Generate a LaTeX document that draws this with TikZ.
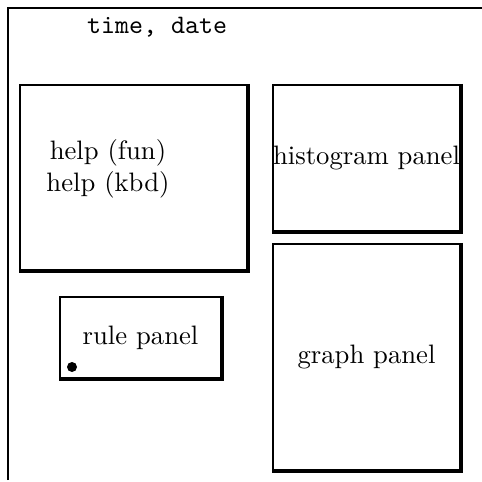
\documentclass[tikz,border=0pt]{standalone}
\usepackage{amsfonts, amssymb, amsmath}
\usetikzlibrary{arrows,positioning,shapes,calc}
\tikzset{panel/.style={draw, line width=0.9pt, inner sep=0pt, rectangle}}

\begin{document}
\begin{tikzpicture}[x=0.375pt,y=-0.375pt]
        \useasboundingbox (0,0) rectangle (482,482);
        %frame
        \draw[line width=1.1pt] (8,480) -- (8,8) -- (482,8);
        \node (clock) at (157,27) {\ttfamily time, date};
        %panels
        \node[panel, minimum width=227*0.375pt, minimum height=185*0.375pt] (help) at (133.5,177.5) {};
        \node[align=center] (helptext) at (108,169) {help (fun)\\help (kbd)};
        \node[panel, minimum width=187*0.375pt, minimum height=146*0.375pt] (hist) at (366.5,158) {histogram panel};
        \node[panel, minimum width=187*0.375pt, minimum height=226*0.375pt] (graph) at (366.5,357) {graph panel};
        \node[panel, minimum width=161*0.375pt, minimum height=81*0.375pt] (rule) at (140.5,337.5) {rule panel};
        %heavier right and bottom edges
        \foreach \p in {help,hist,graph,rule}
          \draw[line width=1.2pt] (\p.north east) -- (\p.south east) -- (\p.south west);
        \fill (72,367) circle (5);
      \end{tikzpicture}
\end{document}
